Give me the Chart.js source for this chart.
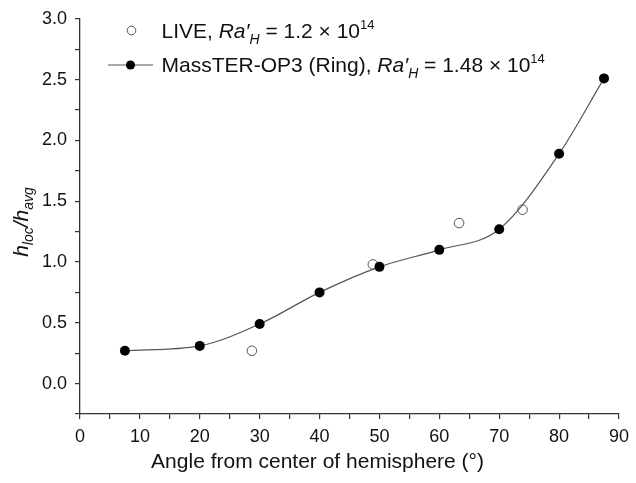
<!DOCTYPE html>
<html>
<head>
<meta charset="utf-8">
<script src="https://cdn.jsdelivr.net/npm/chart.js@4.4.1/dist/chart.umd.min.js"></script>
<style>
  html, body { margin: 0; padding: 0; background: #fff; }
  #wrap { width: 636px; height: 483px; }
</style>
</head>
<body>
<div id="wrap"><canvas id="hChart" width="636" height="483"></canvas></div>
<script>
// LIVE experiment (open circles)
const liveAngles = [28.7, 48.9, 63.3, 73.9];
const liveValues = [0.27, 0.98, 1.32, 1.43];

// MassTER-OP3 (Ring) (filled circles, smooth line)
const ringAngles = [7.5, 20, 30, 40, 50, 60, 70, 80, 87.5];
const ringValues = [0.27, 0.31, 0.49, 0.75, 0.96, 1.10, 1.27, 1.89, 2.51];

const xTicks = [0, 10, 20, 30, 40, 50, 60, 70, 80, 90];
const yTicks = [0.0, 0.5, 1.0, 1.5, 2.0, 2.5, 3.0];

const FONT = "'Liberation Sans', Arial, sans-serif";
const AXIS = '#333';

function font(size, italic) {
    return (italic ? 'italic ' : '') + size + 'px ' + FONT;
}

// draws a row of text pieces (italic, sub and superscripts) one after another
function drawRuns(ctx, x, y, runs) {
    let cx = x;
    runs.forEach(r => {
        ctx.font = font(r.size || 21, r.italic);
        ctx.fillText(r.t, cx, y + (r.dy || 0));
        cx += ctx.measureText(r.t).width;
    });
    return cx - x;
}

function runsWidth(ctx, runs) {
    let w = 0;
    runs.forEach(r => {
        ctx.font = font(r.size || 21, r.italic);
        w += ctx.measureText(r.t).width;
    });
    return w;
}

const textPlugin = {
    id: 'textPlugin',
    afterDraw(chart) {
        const ctx = chart.ctx;
        const xs = chart.scales.x;
        ctx.save();
        ctx.fillStyle = '#111';
        ctx.textBaseline = 'alphabetic';
        ctx.textAlign = 'left';

        // legend
        ctx.strokeStyle = '#555';
        ctx.lineWidth = 1;
        ctx.beginPath();
        ctx.arc(131.5, 30.5, 4.3, 0, Math.PI * 2);
        ctx.fillStyle = '#fff';
        ctx.fill();
        ctx.stroke();
        ctx.beginPath();
        ctx.moveTo(108, 65);
        ctx.lineTo(153, 65);
        ctx.stroke();
        ctx.fillStyle = '#000';
        ctx.beginPath();
        ctx.arc(130.5, 65, 4.6, 0, Math.PI * 2);
        ctx.fill();

        ctx.fillStyle = '#111';
        drawRuns(ctx, 161.5, 37.5, [
            { t: 'LIVE, ' },
            { t: 'Ra\u2032', italic: true },
            { t: 'H', italic: true, size: 14, dy: 6 },
            { t: ' = 1.2 \u00d7 10' },
            { t: '14', size: 13, dy: -9 }
        ]);
        drawRuns(ctx, 161.5, 72, [
            { t: 'MassTER-OP3 (Ring), ' },
            { t: 'Ra\u2032', italic: true },
            { t: 'H', italic: true, size: 14, dy: 6 },
            { t: ' = 1.48 \u00d7 10' },
            { t: '14', size: 13, dy: -9 }
        ]);

        // x axis title
        ctx.font = font(21);
        ctx.textAlign = 'center';
        ctx.fillText('Angle from center of hemisphere (\u00b0)', xs.getPixelForValue(40) - 2, 468);

        // y axis title
        const yRuns = [
            { t: 'h', italic: true },
            { t: 'loc', italic: true, size: 14, dy: 5 },
            { t: '/', italic: true },
            { t: 'h', italic: true },
            { t: 'avg', italic: true, size: 14, dy: 5 }
        ];
        ctx.textAlign = 'left';
        ctx.translate(28, 222);
        ctx.rotate(-Math.PI / 2);
        drawRuns(ctx, -runsWidth(ctx, yRuns) / 2, 0, yRuns);
        ctx.restore();
    }
};

new Chart(document.getElementById('hChart').getContext('2d'), {
    type: 'scatter',
    data: {
        datasets: [{
            label: 'MassTER-OP3 (Ring)',
            data: ringAngles.map((a, i) => ({ x: a, y: ringValues[i] })),
            showLine: true,
            cubicInterpolationMode: 'monotone',
            borderColor: '#555',
            borderWidth: 1.2,
            pointRadius: 5,
            pointBackgroundColor: '#000',
            pointBorderColor: '#000',
            pointBorderWidth: 0,
            order: 0
        }, {
            label: 'LIVE',
            data: liveAngles.map((a, i) => ({ x: a, y: liveValues[i] })),
            showLine: false,
            pointRadius: 4.8,
            pointBackgroundColor: '#fff',
            pointBorderColor: '#555',
            pointBorderWidth: 1,
            order: 1
        }]
    },
    options: {
        responsive: false,
        animation: false,
        layout: { padding: { top: 14, right: 10, left: 0, bottom: 0 } },
        plugins: {
            legend: { display: false },
            tooltip: { enabled: false }
        },
        scales: {
            x: {
                type: 'linear',
                min: 0,
                max: 90,
                afterFit: s => { s.height = 69; },
                border: { display: true, color: AXIS, width: 1.3 },
                grid: { drawOnChartArea: false, drawTicks: true, tickLength: 5, color: AXIS, lineWidth: 1.2 },
                ticks: {
                    stepSize: 5,
                    autoSkip: false,
                    maxRotation: 0,
                    padding: 7,
                    color: '#111',
                    font: { family: FONT, size: 18 },
                    callback: v => xTicks.includes(v) ? String(v) : ''
                }
            },
            y: {
                min: -0.25,
                max: 3.0,
                afterFit: s => { s.width = 80; },
                border: { display: true, color: AXIS, width: 1.3 },
                grid: { drawOnChartArea: false, drawTicks: true, tickLength: 5, color: AXIS, lineWidth: 1.2 },
                ticks: {
                    stepSize: 0.25,
                    autoSkip: false,
                    padding: 8,
                    color: '#111',
                    font: { family: FONT, size: 18 },
                    callback: v => yTicks.some(t => Math.abs(t - v) < 1e-6) ? v.toFixed(1) : ''
                }
            }
        }
    },
    plugins: [textPlugin]
});
</script>
</body>
</html>
